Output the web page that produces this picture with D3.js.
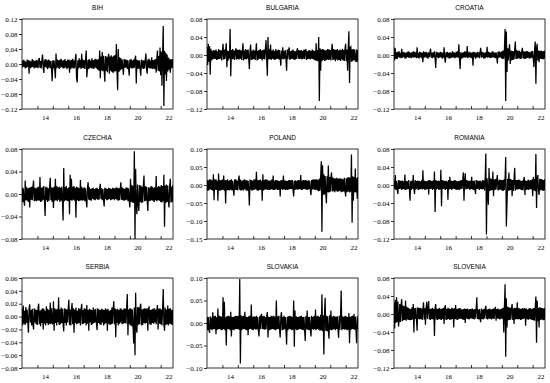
<!DOCTYPE html>
<html>
<head>
<meta charset="utf-8">
<script src="https://cdn.jsdelivr.net/npm/d3@7"></script>
<style>
  body { margin: 0; background: #fff; }
</style>
</head>
<body>
<div id="container"></div>
<script>
// returns, in thousandths (12 = 0.012)
// two readings per month, starting January 2013, one row per year
const bih = [
  [8,-9,11,-7,9,-12,6,-10,12,-8,10,-26,9,-11,7,-9,13,-8,10,-12,8,-10,11,-9],
  [9,-11,12,16,-10,8,-12,10,25,-9,-24,11,-8,13,-10,9,-14,12,-9,10,-11,8,-13,-46],
  [10,-12,9,-15,-38,28,-11,12,-9,10,-13,11,-10,14,-8,9,-12,10,-11,13,-9,8,-14,11],
  [-10,12,-23,9,-13,11,-10,14,-12,9,-11,13,27,-38,-49,10,-12,15,-9,11,-13,27,-10,12],
  [-11,10,-13,12,36,-35,-9,11,-14,13,-10,9,-12,15,-11,10,-13,12,-9,14,-12,11,-15,13],
  [-18,36,-38,20,-17,32,-19,22,-16,-47,21,-18,19,-22,17,27,-26,20,-18,23,-21,19,-24,22],
  [-20,24,-19,53,-22,-70,40,-21,18,-17,15,-14,12,-11,-29,13,-10,12,-9,11,-13,10,-12,-31],
  [11,-10,13,-12,9,-11,12,-10,14,22,-52,11,-13,10,-12,9,-14,-31,12,-11,10,-13,9,-12],
  [11,28,-13,-26,12,-10,14,-12,9,-11,18,-13,10,-12,11,-14,13,-23,15,36,-18,21,-20,44],
  [-30,33,-58,27,101,-112,35,-28,30,-45,25,-20,17,-15,14,-23,12,-11,13,-10]
].flat();

const bulgaria = [
  [18,-22,25,-15,20,-44,14,-12,9,-10,11,-8,10,-9,12,-11,8,-10,13,-9,11,-8,10,-12],
  [9,25,-10,12,-9,11,26,-27,10,-12,9,-8,58,-47,11,-10,13,-9,10,-11,8,15,-10,12],
  [-9,11,-10,12,-8,10,-11,9,26,-12,10,-9,13,-10,11,-8,12,-9,-31,10,23,-11,9,-10],
  [12,-9,10,-11,8,26,-12,9,-10,11,-8,13,-9,10,-12,11,-9,12,-10,14,33,-11,-46,40],
  [-10,13,-9,23,-11,10,-8,12,-10,9,-11,13,-9,10,-8,12,-10,11,-9,-24,10,-8,17,-10],
  [9,-8,11,-10,-35,12,-9,10,17,-11,8,-9,10,-8,12,-10,9,-11,8,-9,10,15,-8,11],
  [-9,10,-8,11,-10,9,-8,12,-9,10,13,-11,8,-9,10,-8,11,-10,9,-8,12,-9,10,-11],
  [9,-12,26,-13,11,-14,40,-102,15,-35,12,-14,13,-11,12,-13,10,-12,11,-10,13,-11,12,-10],
  [11,-12,10,25,-11,13,-10,12,-14,11,-10,13,-12,10,-11,12,-13,11,-10,14,-12,11,-13,15],
  [25,-14,12,-35,13,53,-62,16,18,-15,12,-14,13,-11,12,-13,-14,12,-15,11]
].flat();

const croatia = [
  [17,-12,15,-8,6,-9,7,-5,8,-6,5,-7,14,-6,7,-5,6,-8,5,-7,6,-5,8,-6],
  [7,-6,5,-7,6,-5,8,-6,7,-5,6,-7,17,-6,5,-8,7,-5,6,-7,5,-16,8,-6],
  [6,-5,7,-6,5,-8,6,-5,7,14,-6,5,-7,6,-5,8,-6,-29,7,-5,6,-7,5,-6],
  [7,-5,6,-8,5,-6,17,-7,-17,6,-5,7,-6,5,-8,6,-7,5,-6,8,-5,6,-7,5],
  [-6,7,-5,8,-6,24,-7,-31,6,-8,5,-7,6,-5,8,-6,7,-5,20,-7,6,-5,7,-6],
  [5,-7,6,-24,7,-5,6,-8,5,-6,7,-5,6,-7,5,16,-6,7,-5,6,-8,5,-7,6],
  [-5,18,-6,7,-5,6,-7,5,-6,8,-5,7,-6,5,-7,6,-5,-19,7,-6,8,-5,6,-7],
  [8,-9,10,-8,12,58,-102,52,-38,15,-12,11,24,-20,10,-12,9,-11,8,-10,12,30,-9,11],
  [-8,9,-7,10,-8,7,-9,8,16,-7,8,-9,7,-8,9,-7,8,-6,7,-8,6,-7,8,-6],
  [9,-10,-27,12,30,-64,14,25,-12,10,-16,9,-8,10,-9,8,-10,9,-8,10]
].flat();

const czechia = [
  [12,-14,10,-13,-21,24,-11,13,-12,10,-14,11,-24,12,-10,13,-11,12,24,-13,11,-12,10,-13],
  [12,-11,13,-12,30,-14,11,-13,12,-10,14,-12,-39,13,-11,12,-14,10,-12,13,29,-11,12,-14],
  [11,-25,13,-12,27,-11,14,-13,12,-10,13,-14,11,-12,13,-10,-47,46,-13,12,-11,14,-12,10],
  [-13,12,-36,34,-11,27,-12,13,-10,14,-12,11,-42,13,-11,12,-13,10,-12,25,-11,13,-12,10],
  [-11,12,-13,10,-12,-24,11,21,-10,12,-11,9,-12,10,-9,11,-10,9,-11,10,-9,11,-10,9],
  [-10,11,18,-9,10,-11,9,-10,-22,11,-9,10,-11,9,-10,11,-9,10,-11,9,-10,11,-9,10],
  [-11,10,-9,12,-10,11,-12,10,-11,9,21,-10,12,-11,10,-12,9,-11,12,-10,11,-13,10,-12],
  [-24,27,-14,16,-15,14,-16,76,-80,45,-18,-36,17,-15,-30,16,-14,15,-16,13,-15,14,33,-13],
  [14,-12,13,-11,-30,12,-13,11,-12,14,-11,13,-12,11,-14,12,-11,32,-13,12,-11,14,-12,13],
  [-14,16,-15,14,-13,34,-58,15,-16,17,-14,15,-13,-24,14,27,-15,13,-14,16]
].flat();

const poland = [
  [14,-16,13,-15,16,-12,15,-14,13,-16,30,-42,15,-13,16,-14,12,-44,32,-15,14,-16,13,-14],
  [15,-13,26,-16,14,-51,13,-15,16,-14,12,-15,14,-13,16,-15,12,-14,-30,15,-13,16,-14,12],
  [-15,14,26,-13,15,-16,12,-14,13,-15,16,-12,14,-15,13,-16,12,-14,-57,15,-13,14,-16,12],
  [-14,15,-13,16,-12,37,-15,14,-16,13,-14,15,-13,12,-44,30,-15,14,-13,16,-12,15,-14,13],
  [-13,12,-14,13,-12,15,-13,26,-14,12,-13,14,-12,13,-14,12,-13,11,-32,13,-12,14,-13,26],
  [-12,13,-14,12,-13,11,-14,13,-12,14,-11,13,-12,14,-13,-32,12,-14,13,-12,11,-13,14,-12],
  [13,-12,28,-14,12,-13,14,-11,13,-12,14,-13,12,-14,13,-11,12,-15,-28,14,-13,15,-12,16],
  [-14,15,-13,16,-15,14,-17,18,-16,20,66,-130,55,-28,30,-26,25,-22,-51,24,-20,54,-21,22],
  [-19,20,35,-18,21,-17,19,-20,18,-16,20,-19,17,-18,19,-16,18,-20,17,-19,16,-18,20,-17],
  [-32,19,-20,21,-18,22,-21,20,-19,85,-105,24,-44,22,-20,46,-21,19,-38,22]
].flat();

const romania = [
  [10,-9,22,-11,9,-10,-20,11,-9,10,-8,9,-11,10,-9,8,-10,23,-11,9,-10,8,-9,11],
  [-10,-35,9,-11,10,-8,22,-9,-20,11,-10,9,-8,10,-11,9,-10,8,-9,11,-10,33,-9,10],
  [-11,9,-10,8,-9,10,-21,11,-9,10,-8,9,-11,10,-9,30,-60,11,-10,9,-8,10,-11,9],
  [-10,34,-47,11,-9,10,-8,9,-11,10,-9,8,-33,11,-10,18,-9,10,-11,9,-8,10,-9,11],
  [-10,9,-11,8,-10,9,-11,10,-9,11,-8,10,28,-35,9,26,-10,11,-9,10,-8,9,-11,10],
  [-9,18,-10,9,-11,10,-8,-20,11,-9,10,-8,9,-11,10,-9,8,-10,11,-9,10,-12,13,70],
  [-110,15,-14,-44,38,-13,15,-12,14,-11,30,-25,12,-11,13,-10,11,22,-12,10,-11,12,-10,11],
  [-12,11,-13,12,-11,13,62,-92,-44,14,-13,28,-12,13,-11,12,-25,11,-13,12,38,-12,11,-10],
  [11,-10,12,-9,11,-10,9,-11,10,-12,11,18,-22,10,-11,9,-10,12,-11,10,-9,11,-10,12],
  [-25,18,-12,13,-14,69,-51,15,22,-13,-22,14,-12,13,-11,12,-13,11,-12,13]
].flat();

const serbia = [
  [12,-14,17,-11,9,-13,15,-10,11,-8,-25,12,19,-9,10,-14,12,-11,-20,13,-9,11,-12,10],
  [-13,14,20,-12,9,-15,11,-10,13,-20,12,-11,9,-14,16,-10,12,-13,10,-11,22,-12,13,-9],
  [-12,24,-22,13,-10,11,-14,12,-9,30,-13,11,-12,14,-10,12,-11,-23,13,-10,12,-14,11,-9],
  [12,26,-13,11,-14,10,21,-12,13,-25,11,-10,14,-12,9,-11,13,-10,12,-14,11,20,-12,10],
  [-11,13,-10,12,-14,18,-11,10,-22,12,-9,11,-13,10,-12,14,-10,11,-9,12,-11,-21,13,-10],
  [11,-12,10,-13,12,-9,11,-14,10,-12,13,-10,11,-22,12,-11,9,-13,10,-12,14,-11,12,24],
  [-12,13,-32,11,-10,12,-14,10,-11,13,-9,12,-12,10,-11,13,-10,12,-11,14,35,-29,11,-12],
  [13,-14,12,-15,11,-16,-42,14,-60,37,-18,-25,15,-13,14,-12,16,20,-14,11,-13,12,-10,13],
  [-11,12,-10,13,-22,11,16,-12,10,-13,11,-10,12,-11,13,-9,11,-12,10,18,-20,12,-11,13],
  [-12,11,-14,13,43,-12,-22,14,-13,11,-12,17,-14,12,-11,13,-12,10,-13,11]
].flat();

const slovakia = [
  [14,-16,13,-15,-22,15,-14,12,-16,24,-13,15,-14,16,-25,13,-15,32,-14,16,-13,15,-16,14],
  [-15,57,-14,47,-16,13,-50,15,-14,16,-13,15,-16,25,-30,14,-15,13,-16,15,-14,16,-13,15],
  [-14,16,-15,98,-90,17,-16,15,-14,16,-13,25,-15,14,-16,13,-27,15,-14,16,-13,41,-15,14],
  [-16,15,-13,14,-15,16,-14,13,-16,-30,15,-14,16,20,-13,15,-14,16,-15,13,-14,15,24,-32],
  [14,-16,13,-15,16,-14,15,-13,16,-15,14,-16,50,-14,15,-13,16,-15,-32,14,24,-16,13,-15],
  [16,-14,13,-15,-48,14,-16,15,-13,16,-14,15,-16,13,-15,50,-53,28,-14,15,-16,13,-15,14],
  [-13,15,-14,16,-15,13,-16,14,-13,-40,15,-14,28,-15,13,-16,14,-15,-30,16,-14,13,-15,16],
  [-14,30,-16,15,-13,16,-15,14,-17,18,-16,64,-18,17,-70,19,56,-17,16,-18,15,-16,-35,17],
  [-15,28,-16,14,-15,16,-13,15,-16,14,-13,15,-14,-33,16,-15,14,72,-16,15,-13,14,-15,16],
  [-14,15,-16,13,-15,22,-45,14,-16,15,-13,16,-14,20,-15,14,-13,-45,15,-14]
].flat();

const slovenia = [
  [25,-32,31,-20,37,-18,28,-28,-15,22,-18,20,33,-16,19,-14,17,-13,30,-15,16,-12,14,-13],
  [12,-14,11,-13,15,-12,22,-41,13,-11,14,-12,-37,15,-11,13,-12,14,-11,12,-13,11,26,-12],
  [13,-24,12,27,-11,14,29,-12,11,-13,12,-11,14,-12,11,-49,13,22,-12,11,-13,12,-11,14],
  [-12,11,-13,12,-11,14,-22,12,20,-13,11,-12,14,-11,12,-13,11,-12,14,-11,12,-30,13,-11],
  [20,-12,11,-13,12,-11,13,-10,12,-11,10,-12,11,-13,12,-20,11,-10,12,-11,10,-12,11,-10],
  [11,-10,12,-11,10,-12,11,-10,12,37,-11,10,-12,11,-10,-18,12,-11,10,-12,11,-10,12,18],
  [-11,10,-12,11,-10,12,-11,10,-12,11,-10,12,-11,10,16,-15,11,-10,12,-11,10,-12,11,-10],
  [12,-11,14,-41,15,66,-95,35,-30,16,-14,15,-13,14,-12,13,22,-13,12,-22,14,-12,13,-11],
  [26,-12,13,-11,12,-13,11,-12,13,-11,12,-10,13,-26,12,-11,10,-13,12,-11,13,-12,11,-13],
  [12,-14,13,-15,14,39,-64,30,-16,14,-30,15,-13,14,-12,13,-14,12,-13,14]
].flat();

const countries = ["BIH", "BULGARIA", "CROATIA", "CZECHIA", "POLAND", "ROMANIA", "SERBIA", "SLOVAKIA", "SLOVENIA"];
const series = [bih, bulgaria, croatia, czechia, poland, romania, serbia, slovakia, slovenia];

const yDomains = [
  [-0.12, 0.12], [-0.12, 0.08], [-0.12, 0.08],
  [-0.08, 0.08], [-0.15, 0.10], [-0.12, 0.08],
  [-0.08, 0.06], [-0.10, 0.10], [-0.12, 0.08]
];
const yTicks = [
  [-0.12, -0.08, -0.04, 0, 0.04, 0.08, 0.12],
  [-0.12, -0.08, -0.04, 0, 0.04, 0.08],
  [-0.12, -0.08, -0.04, 0, 0.04, 0.08],
  [-0.08, -0.04, 0, 0.04, 0.08],
  [-0.15, -0.10, -0.05, 0, 0.05, 0.10],
  [-0.12, -0.08, -0.04, 0, 0.04, 0.08],
  [-0.08, -0.06, -0.04, -0.02, 0, 0.02, 0.04, 0.06],
  [-0.10, -0.05, 0, 0.05, 0.10],
  [-0.12, -0.08, -0.04, 0, 0.04, 0.08]
];

const xTickYears = [2014, 2015, 2016, 2017, 2018, 2019, 2020, 2021, 2022];
const xLabelYears = [14, 16, 18, 20, 22];
const startYear = 2013, perYear = 24, unit = 0.001;

const width = 550, height = 383;
const colLeft = [22, 207, 394], rowTop = [19, 149, 278];
const panelW = 151, panelH = 90;
const serif = "'Liberation Serif', 'Times New Roman', serif";

let svg = d3.select("#container").append("svg")
    .attr("width", width)
    .attr("height", height);

let x = d3.scaleLinear()
    .domain([2013, 2022.8])
    .range([0, panelW]);

function styleAxis(a) {
  a.attr("font-family", serif).attr("font-size", 7);
  a.selectAll("text").attr("fill", "#000");
  a.selectAll("line").attr("stroke", "#000").attr("stroke-width", 0.8);
  a.select(".domain").remove();
}

countries.forEach(function(name, k) {
  let g = svg.append("g")
      .attr("transform", "translate(" + colLeft[k % 3] + "," + rowTop[Math.floor(k / 3)] + ")");

  let y = d3.scaleLinear()
      .domain(yDomains[k])
      .range([panelH, 0]);

  g.append("clipPath").attr("id", "clip" + k)
    .append("rect")
      .attr("width", panelW)
      .attr("height", panelH);

  let line = d3.line()
      .x(function(d, i) { return x(startYear + i / perYear); })
      .y(function(d) { return y(d * unit); });

  g.append("path")
      .datum(series[k])
      .attr("clip-path", "url(#clip" + k + ")")
      .attr("fill", "none")
      .attr("stroke", "#000")
      .attr("stroke-width", 1.25)
      .attr("d", line);

  // frame
  g.append("rect")
      .attr("width", panelW)
      .attr("height", panelH)
      .attr("fill", "none")
      .attr("stroke", "#000")
      .attr("stroke-width", 0.8);

  // y axis, outward ticks
  g.append("g")
      .call(d3.axisLeft(y)
        .tickValues(yTicks[k])
        .tickSize(3)
        .tickPadding(1.5)
        .tickFormat(d3.format(".2f")))
      .call(styleAxis);

  // x axis, inward ticks at year starts
  g.append("g")
      .attr("transform", "translate(0," + panelH + ")")
      .call(d3.axisBottom(x)
        .tickValues(xTickYears)
        .tickSize(-3)
        .tickFormat(""))
      .call(styleAxis);

  // year labels centred in their year
  g.append("g")
      .attr("transform", "translate(0," + panelH + ")")
      .call(d3.axisBottom(x)
        .tickValues(xLabelYears.map(function(v) { return 2000 + v + 0.5; }))
        .tickSize(0)
        .tickPadding(6)
        .tickFormat(function(d) { return String(Math.floor(d) - 2000); }))
      .call(styleAxis)
      .call(function(a) { a.selectAll("line").remove(); });

  g.append("text")
      .attr("x", panelW / 2)
      .attr("y", -9)
      .attr("text-anchor", "middle")
      .attr("font-family", "'Liberation Sans', Arial, sans-serif")
      .attr("font-size", 6.5)
      .attr("fill", "#000")
      .text(name);
});
</script>
</body>
</html>
